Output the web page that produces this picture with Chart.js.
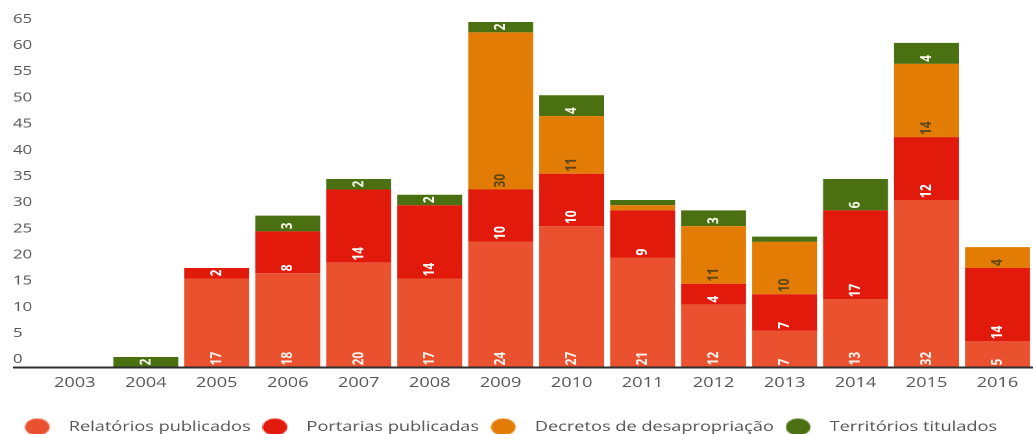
<!DOCTYPE html>
<html lang="pt">
<head>
    <title>Quilombos</title>
    <meta charset="UTF-8">
    <style>
        body {
            margin: 0;
            overflow: hidden;
            background: #fff;
            font-family: "Open Sans", sans-serif;
        }
        #chart {
            transform: scaleX(1.2977);
            transform-origin: 0 0;
        }
    </style>
</head>
<body>
<canvas id="chart" width="796" height="444"></canvas>
<script src="https://cdn.jsdelivr.net/npm/chart.js"></script>
<script>
    const years = ['2003', '2004', '2005', '2006', '2007', '2008', '2009', '2010', '2011', '2012', '2013', '2014', '2015', '2016'];
    const relatorios = [0, 0, 17, 18, 20, 17, 24, 27, 21, 12, 7, 13, 32, 5];
    const portarias = [0, 0, 2, 8, 14, 14, 10, 10, 9, 4, 7, 17, 12, 14];
    const decretos = [0, 0, 0, 0, 0, 0, 30, 11, 1, 11, 10, 0, 14, 4];
    const territorios = [0, 2, 0, 3, 2, 2, 2, 4, 1, 3, 1, 6, 4, 0];

    const colors = ['#e9512f', '#e21a0c', '#e27c05', '#4a7012'];
    const labelColors = ['#fff3ee', '#ffffff', '#5e4715', '#f4f8e8'];

    // legend marker: oval at the left of a 27px box, leaves room before the text
    function makeDot(color) {
        const c = document.createElement('canvas');
        c.width = 27;
        c.height = 17;
        const g = c.getContext('2d');
        g.fillStyle = color;
        g.beginPath();
        g.ellipse(9.7, 8.5, 9.6, 8.4, 0, 0, Math.PI * 2);
        g.fill();
        return c;
    }
    const dots = colors.map(makeDot);

    // rotated value labels at the bottom of each segment + the long x axis line
    const barLabels = {
        id: 'barLabels',
        afterDatasetsDraw(chart) {
            const ctx = chart.ctx;
            const area = chart.chartArea;
            ctx.save();
            ctx.strokeStyle = '#2e2e2e';
            ctx.lineWidth = 2;
            ctx.beginPath();
            ctx.moveTo(10, area.bottom);
            ctx.lineTo(area.right, area.bottom);
            ctx.stroke();

            ctx.font = 'bold 12px "Open Sans"';
            ctx.textAlign = 'left';
            ctx.textBaseline = 'middle';
            chart.data.datasets.forEach((ds, i) => {
                const meta = chart.getDatasetMeta(i);
                meta.data.forEach((bar, j) => {
                    const v = ds.data[j];
                    if (v < 2) return;
                    ctx.save();
                    ctx.fillStyle = labelColors[i];
                    ctx.translate(bar.x, bar.base - 2);
                    ctx.rotate(-Math.PI / 2);
                    ctx.fillText(String(v), 0, 0);
                    ctx.restore();
                });
            });
            ctx.restore();
        }
    };

    const ctx = document.getElementById('chart').getContext('2d');
    Chart.defaults.font.family = '"Open Sans", sans-serif';

    const chart = new Chart(ctx, {
        type: 'bar',
        data: {
            labels: years,
            datasets: [
                { label: 'Relatórios publicados', data: relatorios, backgroundColor: colors[0] },
                { label: 'Portarias publicadas', data: portarias, backgroundColor: colors[1] },
                { label: 'Decretos de desapropriação', data: decretos, backgroundColor: colors[2] },
                { label: 'Territórios titulados', data: territorios, backgroundColor: colors[3] }
            ]
        },
        options: {
            responsive: false,
            animation: false,
            devicePixelRatio: 2,
            layout: { padding: { left: 10, top: 1, right: 0, bottom: 0 } },
            datasets: {
                bar: { categoryPercentage: 1, barPercentage: 0.915 }
            },
            plugins: {
                tooltip: { enabled: false },
                legend: {
                    position: 'bottom',
                    align: 'start',
                    labels: {
                        usePointStyle: true,
                        pointStyleWidth: 27,
                        boxHeight: 12,
                        padding: 9,
                        color: '#555',
                        font: { size: 14 },
                        generateLabels: chart => Chart.defaults.plugins.legend.labels.generateLabels(chart).map((item, i) => {
                            item.pointStyle = dots[i];
                            return item;
                        })
                    }
                }
            },
            scales: {
                x: {
                    stacked: true,
                    grid: { display: false, drawTicks: false },
                    border: { display: false },
                    ticks: { color: '#555', font: { size: 14 }, padding: 7, maxRotation: 0 },
                    afterFit: s => { s.height = 43.5; }
                },
                y: {
                    stacked: true,
                    min: 0,
                    max: 70,
                    grid: { display: false, drawTicks: false },
                    border: { display: false },
                    ticks: {
                        stepSize: 5,
                        labelOffset: -8,
                        crossAlign: 'far',
                        padding: 0,
                        color: '#555',
                        font: { size: 13 },
                        callback: v => v > 65 ? '' : v
                    },
                    afterFit: s => {
                        s.width = 20.3;
                        s.paddingTop = 0;
                        s.paddingBottom = 0;
                    }
                }
            }
        },
        plugins: [barLabels]
    });
</script>
</body>
</html>
